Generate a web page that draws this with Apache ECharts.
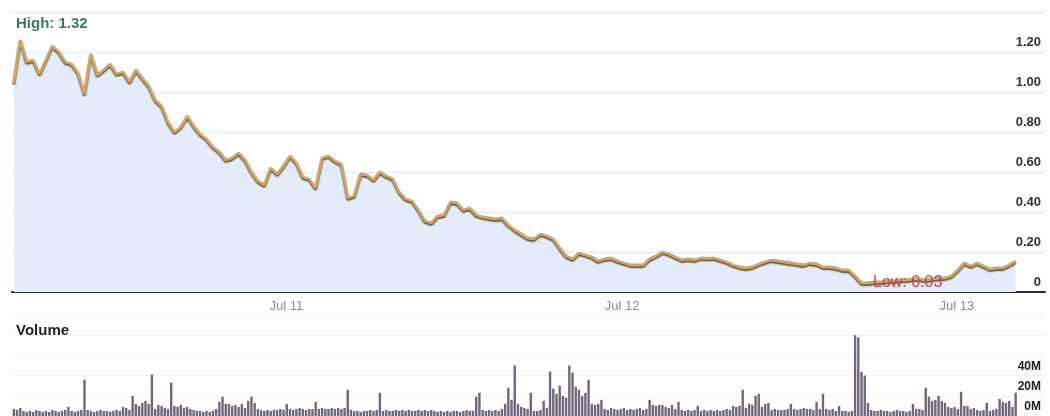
<!DOCTYPE html>
<html>
<head>
<meta charset="utf-8">
<script src="https://cdn.jsdelivr.net/npm/echarts@6/dist/echarts.min.js"></script>
<style>
  html, body { margin: 0; padding: 0; background: #ffffff; }
  #chart { width: 1050px; height: 416px; }
</style>
</head>
<body>
<div id="chart"></div>
<script>
// ---- data ----
// weekly closing prices, starting 7 Sep 2010
const priceStart = Date.UTC(2010, 8, 7);
const prices = [
  1.045,1.26,1.15,1.16,1.09,1.16,1.23,1.20,1.15,1.14,
  1.095,0.99,1.19,1.085,1.11,1.14,1.09,1.10,1.05,1.11,
  1.07,1.03,0.96,0.93,0.85,0.80,0.825,0.88,0.83,0.79,
  0.765,0.725,0.70,0.66,0.67,0.695,0.66,0.60,0.555,0.535,
  0.62,0.59,0.63,0.68,0.645,0.575,0.565,0.52,0.67,0.68,
  0.655,0.64,0.47,0.48,0.59,0.585,0.56,0.60,0.58,0.565,
  0.50,0.465,0.455,0.41,0.355,0.345,0.38,0.385,0.45,0.445,
  0.41,0.42,0.385,0.375,0.37,0.365,0.37,0.335,0.31,0.29,
  0.27,0.265,0.29,0.28,0.265,0.22,0.18,0.165,0.195,0.185,
  0.175,0.155,0.165,0.17,0.155,0.145,0.135,0.135,0.135,0.165,
  0.18,0.20,0.19,0.175,0.16,0.165,0.16,0.17,0.168,0.17,
  0.16,0.15,0.135,0.125,0.12,0.125,0.14,0.15,0.16,0.155,
  0.15,0.145,0.14,0.135,0.145,0.14,0.125,0.125,0.12,0.11,
  0.11,0.08,0.045,0.045,0.05,0.05,0.055,0.055,0.06,0.06,
  0.065,0.065,0.06,0.065,0.07,0.07,0.08,0.11,0.145,0.13,
  0.145,0.13,0.115,0.12,0.12,0.135,0.155
];
// half-weekly volume in millions, same start
const volumes = [
  7,6,8,5,4,5,4,6,5,4, 5,4,6,5,4,5,6,9,5,4,
  5,6,36,6,5,4,5,6,5,5, 4,5,6,5,9,8,6,20,12,10,
  13,15,12,41,7,11,10,8,7,33, 10,9,11,8,9,7,6,5,5,4,
  5,4,5,7,14,19,12,12,10,11, 9,12,8,15,19,13,7,6,5,6,
  5,6,6,7,6,12,7,6,7,8, 7,6,7,7,14,7,8,7,7,8,
  7,8,7,8,26,6,5,5,4,5, 5,6,5,6,23,5,6,5,5,6,
  5,6,5,6,5,5,6,5,6,5, 6,5,4,5,4,5,4,5,5,4,
  5,6,5,5,19,23,6,5,6,5, 6,5,7,12,28,16,50,12,9,8,
  7,23,5,5,6,15,8,44,27,22, 30,20,18,50,43,29,26,20,23,36,
  12,11,12,16,7,6,8,7,6,7, 8,6,7,6,7,8,6,7,16,11,
  10,11,11,9,8,11,7,14,6,5, 6,5,6,10,5,6,5,6,5,6,
  5,6,7,6,10,9,10,26,8,12, 11,20,22,9,12,13,6,7,6,6,
  6,7,12,7,6,7,8,7,7,6, 14,7,22,7,6,7,5,10,5,5,
  4,5,80,78,44,40,13,6,5,5, 6,5,5,4,5,6,5,5,4,5,
  12,7,7,6,28,19,15,16,20,15, 13,9,8,9,7,24,10,10,7,8,
  6,5,6,13,5,6,7,17,14,13, 15,9,23
];
const tickLabels = ['Jul 11', 'Jul 12', 'Jul 13'];
const tickDates = [Date.UTC(2011, 6, 1), Date.UTC(2012, 6, 1), Date.UTC(2013, 6, 1)];
const highText = 'High: 1.32';
const lowText = 'Low: 0.03';

const DAY = 86400000;
const xMin = Date.UTC(2010, 8, 5);
const xMax = Date.UTC(2013, 9, 5);
const priceData = prices.map((v, i) => [priceStart + i * 7 * DAY, v]);
const volumeData = volumes.map((v, i) => [priceStart + i * 3.5 * DAY, v]);

const FONT = "Arial, 'Liberation Sans', sans-serif";
const chart = echarts.init(document.getElementById('chart'), null, { renderer: 'canvas' });

chart.setOption({
  animation: false,
  backgroundColor: '#ffffff',
  textStyle: { fontFamily: FONT },
  title: [
    { text: highText, left: 11, top: 11, textStyle: { color: '#3e7b5e', fontSize: 15, fontWeight: 'bold', fontFamily: FONT } },
    { text: 'Volume', left: 11, top: 318, textStyle: { color: '#222', fontSize: 15, fontWeight: 'bold', fontFamily: FONT } }
  ],
  grid: [
    { left: 12, right: 5, top: 12, height: 280 },
    { left: 12, right: 5, top: 315, bottom: -1 }
  ],
  xAxis: [
    {
      type: 'value', gridIndex: 0, min: xMin, max: xMax,
      axisLine: { show: true, onZero: false, lineStyle: { color: '#2a2a2a', width: 2 } },
      axisTick: { show: false },
      splitLine: { show: false },
      axisLabel: {
        customValues: tickDates,
        formatter: v => { const i = tickDates.indexOf(v); return i >= 0 ? tickLabels[i] : ''; },
        color: '#8a8a8a', fontSize: 13, margin: 8, fontFamily: FONT
      }
    },
    {
      type: 'value', gridIndex: 1, min: xMin, max: xMax,
      axisLine: { show: false }, axisTick: { show: false },
      splitLine: { show: false }, axisLabel: { show: false }
    }
  ],
  yAxis: [
    {
      type: 'value', gridIndex: 0, position: 'right', min: 0, max: 1.4, interval: 0.2,
      axisLine: { show: false }, axisTick: { show: false },
      splitLine: { show: true, lineStyle: { color: '#c9cfd8', type: 'dotted', width: 1 } },
      axisLabel: {
        inside: true, margin: 4, verticalAlign: 'bottom', padding: [0, 0, 3, 0],
        color: '#333', fontSize: 13, fontWeight: 'bold', fontFamily: FONT,
        formatter: v => v > 1.3 ? '' : (v === 0 ? '0' : v.toFixed(2))
      }
    },
    {
      type: 'value', gridIndex: 1, position: 'right', min: 0, max: 100, interval: 20,
      axisLine: { show: false }, axisTick: { show: false },
      splitLine: { show: true, lineStyle: { color: '#e4e4e4', type: 'dotted', width: 1 } },
      axisLabel: {
        inside: true, margin: 4, verticalAlign: 'bottom', padding: [0, 0, 3, 0],
        color: '#222', fontSize: 12, fontWeight: 'bold', fontFamily: FONT,
        formatter: v => v > 40 ? '' : v + 'M'
      }
    }
  ],
  series: [
    {
      type: 'line', xAxisIndex: 0, yAxisIndex: 0, data: priceData,
      symbol: 'none', smooth: false,
      lineStyle: { color: '#cfa466', width: 2.8, shadowColor: 'rgba(40,28,10,0.8)', shadowBlur: 1.5, shadowOffsetY: 1.5 },
      areaStyle: { color: '#e3ecf8', opacity: 1 },
      markPoint: {
        symbol: 'circle', symbolSize: 1,
        itemStyle: { color: 'rgba(0,0,0,0)' },
        data: [{ type: 'min' }],
        label: {
          show: true, position: 'right', distance: 11,
          formatter: lowText, color: '#c04656', fontSize: 16, fontFamily: FONT
        }
      }
    },
    {
      type: 'bar', xAxisIndex: 1, yAxisIndex: 1, data: volumeData,
      barWidth: 2.4, itemStyle: { color: '#71677b' }
    }
  ]
});
</script>
</body>
</html>
